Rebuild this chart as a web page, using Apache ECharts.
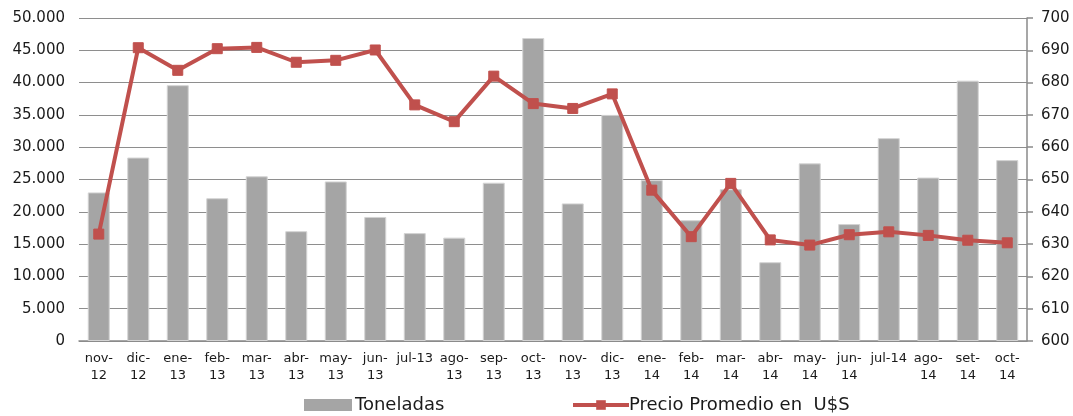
<!DOCTYPE html>
<html>
<head>
<meta charset="utf-8">
<script src="https://cdn.jsdelivr.net/npm/echarts@6/dist/echarts.min.js"></script>
<style>html,body{margin:0;padding:0;background:#fff;}#c{width:1073px;height:416px;}</style>
</head>
<body>
<div id="c"></div>
<script>
var categories = ['nov-\n12','dic-\n12','ene-\n13','feb-\n13','mar-\n13','abr-\n13','may-\n13','jun-\n13','jul-13','ago-\n13','sep-\n13','oct-\n13','nov-\n13','dic-\n13','ene-\n14','feb-\n14','mar-\n14','abr-\n14','may-\n14','jun-\n14','jul-14','ago-\n14','set-\n14','oct-\n14'];
var toneladas = [23000,28400,39600,22100,25500,17000,24700,19200,16700,16000,24500,46900,21300,35000,24900,18700,23500,12200,27500,18100,31400,25300,40300,28000];
var precio = [633.1,690.8,683.8,690.5,690.9,686.3,686.9,690.1,673.1,667.9,682.0,673.5,672.0,676.5,646.7,632.3,648.8,631.3,629.7,632.9,633.8,632.7,631.2,630.4];
var leftTicks = {min:0,max:50000,interval:5000};
var rightTicks = {min:600,max:700,interval:10};

var FONT = 'DejaVu Sans';
var chart = echarts.init(document.getElementById('c'), null, {renderer:'canvas'});
chart.setOption({
  animation:false,
  textStyle:{fontFamily:FONT},
  grid:{left:79,right:46,top:18,bottom:75,containLabel:false},
  legend:[
    {left:304,top:396,padding:0,itemWidth:48,itemHeight:12,itemGap:0,
     textStyle:{fontSize:18,color:'#1a1a1a',fontFamily:FONT,padding:[0,0,0,-2]},
     data:[{name:'Toneladas',icon:'rect',itemStyle:{borderWidth:0}}]},
    {left:571,top:396,padding:0,itemWidth:56,itemHeight:12,itemGap:0,
     textStyle:{fontSize:18,color:'#1a1a1a',fontFamily:FONT,padding:[0,0,0,-5]},
     lineStyle:{width:4},
     data:[{name:'Precio Promedio en  U$S',lineStyle:{width:4,color:'#c0504d'}}]}
  ],
  xAxis:{type:'category',data:categories,boundaryGap:true,
    axisLine:{show:true,lineStyle:{color:'#8a8a8a',width:1.5}},
    axisTick:{show:false},
    axisLabel:{interval:0,fontSize:13,color:'#1a1a1a',lineHeight:17,margin:9,fontFamily:FONT}},
  yAxis:[
    {type:'value',min:leftTicks.min,max:leftTicks.max,interval:leftTicks.interval,
     axisLine:{show:false},axisTick:{show:false},
     splitLine:{show:true,lineStyle:{color:'#8e8e8e',width:1.2}},
     axisLabel:{fontSize:15,color:'#1a1a1a',margin:14,fontFamily:FONT,
       formatter:function(v){return v===0?'0':String(v).replace(/\B(?=(\d{3})+(?!\d))/g,'.');}}},
    {type:'value',position:'right',min:rightTicks.min,max:rightTicks.max,interval:rightTicks.interval,
     axisLine:{show:true,lineStyle:{color:'#8a8a8a',width:1.5}},
     axisTick:{show:true,inside:false,length:6,lineStyle:{color:'#8a8a8a',width:1.5}},
     splitLine:{show:false},
     axisLabel:{fontSize:15,color:'#1a1a1a',margin:14,fontFamily:FONT}}
  ],
  series:[
    {name:'Toneladas',type:'bar',yAxisIndex:0,data:toneladas,barWidth:22,
     itemStyle:{color:'#a5a5a5',borderColor:'#d4d4d4',borderWidth:1}},
    {name:'Precio Promedio en  U$S',type:'line',yAxisIndex:1,data:precio,
     symbol:'rect',symbolSize:10,z:5,
     lineStyle:{color:'#c0504d',width:4},
     itemStyle:{color:'#c0504d',borderColor:'#c0504d'}}
  ]
});
</script>
</body>
</html>
